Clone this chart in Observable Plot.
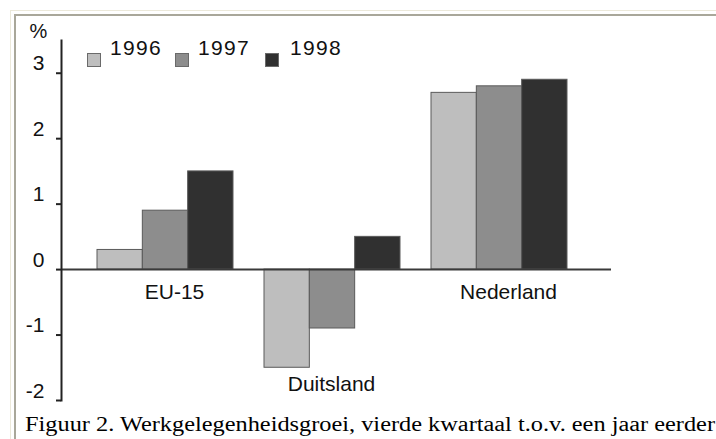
<!DOCTYPE html>
<html>
<head>
<meta charset="utf-8">
<script src="https://cdn.jsdelivr.net/npm/d3@7"></script>
<script src="https://cdn.jsdelivr.net/npm/@observablehq/plot@0.6"></script>
<style>
  html, body { margin: 0; padding: 0; background: #fff; width: 716px; height: 439px; overflow: hidden; }
  #page { position: relative; width: 716px; height: 439px; }
  #frameOuter { position: absolute; left: 10px; top: 10px; right: -20px; bottom: -20px; border-top: 1px solid #ece9da; border-left: 1px solid #ece9da; }
  #frameInner { position: absolute; left: 14px; top: 14px; right: -20px; bottom: -20px; border-top: 2px solid #a9a79a; border-left: 2px solid #a9a79a; }
  #chart { position: absolute; left: 0; top: 0; }
  #legend { position: absolute; left: 0; top: 0; font-family: "Liberation Sans", Arial, sans-serif; font-size: 21px; line-height: 1; color: #111; }
  .sw { position: absolute; width: 12px; height: 12px; border: 1px solid #6a6a6a; }
  .lt { position: absolute; letter-spacing: 1.3px; }
  #caption { position: absolute; left: 25px; top: 414px; font-family: "Liberation Serif", "Times New Roman", serif; font-size: 20.5px; line-height: 1; color: #000; white-space: nowrap; transform-origin: 0 0; }
</style>
</head>
<body>
<div id="page">
  <div id="frameOuter"></div>
  <div id="frameInner"></div>
  <div id="chart"></div>
  <div id="legend"></div>
  <div id="caption">Figuur 2. Werkgelegenheidsgroei, vierde kwartaal t.o.v. een jaar eerder</div>
</div>
<script>
// ---- data ----
const categories = ["EU-15", "Duitsland", "Nederland"];
const years = ["1996", "1997", "1998"];
const values1996 = [0.3, -1.5, 2.7];
const values1997 = [0.9, -0.9, 2.8];
const values1998 = [1.5, 0.5, 2.9];
const yTicks = [-2, -1, 0, 1, 2, 3];
const unitLabel = ["%"];
const yearColors = ["#bebebe", "#8d8d8d", "#303030"];

const series = [values1996, values1997, values1998];
const table = categories.flatMap((c, i) =>
  years.map((y, j) => ({category: c, year: y, value: series[j][i]}))
);
const catMin = categories.map((c, i) => ({
  category: c,
  low: Math.min(0, ...series.map(s => s[i]))
}));

// ---- layout ----
const W = 716, H = 410;
const mL = 61, mR = 105, mT = 40, mB = 10;
const pIn = 0.188, pOut = 0.236, alignX = 0.443;
const step = (W - mL - mR) / (categories.length - pIn + 2 * pOut);
const bandW = step * (1 - pIn);
const barW = bandW / years.length;

const marks = [];
years.forEach((yr, j) => {
  marks.push(Plot.barY(table.filter(d => d.year === yr), {
    x: "category", y: "value", fill: "year",
    stroke: "#5a5a5a", strokeWidth: 1,
    insetLeft: j * barW, insetRight: (years.length - 1 - j) * barW
  }));
});
marks.push(Plot.ruleY([0], {stroke: "#3a3a3a", strokeWidth: 2}));
marks.push(Plot.axisY({ticks: yTicks, tickSize: 5, tickFormat: () => "", label: null, stroke: "#222", strokeWidth: 2}));
marks.push(Plot.frame({anchor: "left", stroke: "#222", strokeWidth: 2}));
marks.push(Plot.text(yTicks, {y: d => d, text: d => String(d), frameAnchor: "left", textAnchor: "end", lineAnchor: "middle", dx: -17, dy: -9.5, fontSize: 21, fill: "#111", letterSpacing: 1}));
marks.push(Plot.text(unitLabel, {text: d => d, frameAnchor: "top-left", lineAnchor: "middle", dx: -23, dy: -9, textAnchor: "middle", fontSize: 20, fill: "#111"}));
marks.push(Plot.text(catMin.filter(d => d.low === 0), {x: "category", y: "low", text: "category", dy: 23, dx: 9, fontSize: 21, fill: "#111", letterSpacing: -0.5}));
marks.push(Plot.text(catMin.filter(d => d.low < 0), {x: "category", y: "low", text: "category", dy: 16, dx: -1, fontSize: 21, fill: "#111", letterSpacing: -0.5}));

const chart = Plot.plot({
  width: W, height: H,
  marginLeft: mL, marginRight: mR, marginTop: mT, marginBottom: mB,
  style: {background: "none", fontFamily: "Liberation Sans, Arial, sans-serif", fontSize: "21px", color: "#222", overflow: "visible"},
  x: {domain: categories, paddingInner: pIn, paddingOuter: pOut, align: alignX, axis: null},
  y: {domain: [-2, 3.5], axis: null},
  color: {domain: years, range: yearColors},
  marks
});
document.getElementById("chart").appendChild(chart);

// ---- legend (inside plot area, top-left) ----
const legend = document.getElementById("legend");
const swX = [87, 175, 265];
const txX = [110, 198, 290];
years.forEach((yr, j) => {
  const sw = document.createElement("div");
  sw.className = "sw";
  sw.style.left = swX[j] + "px";
  sw.style.top = "53px";
  sw.style.background = yearColors[j];
  legend.appendChild(sw);
  const t = document.createElement("div");
  t.className = "lt";
  t.style.left = txX[j] + "px";
  t.style.top = "37px";
  t.textContent = yr;
  legend.appendChild(t);
});

// stretch caption horizontally to the reference's width
const cap = document.getElementById("caption");
const capW = cap.getBoundingClientRect().width;
cap.style.transform = "scaleX(" + (690 / capW) + ")";
</script>
</body>
</html>
